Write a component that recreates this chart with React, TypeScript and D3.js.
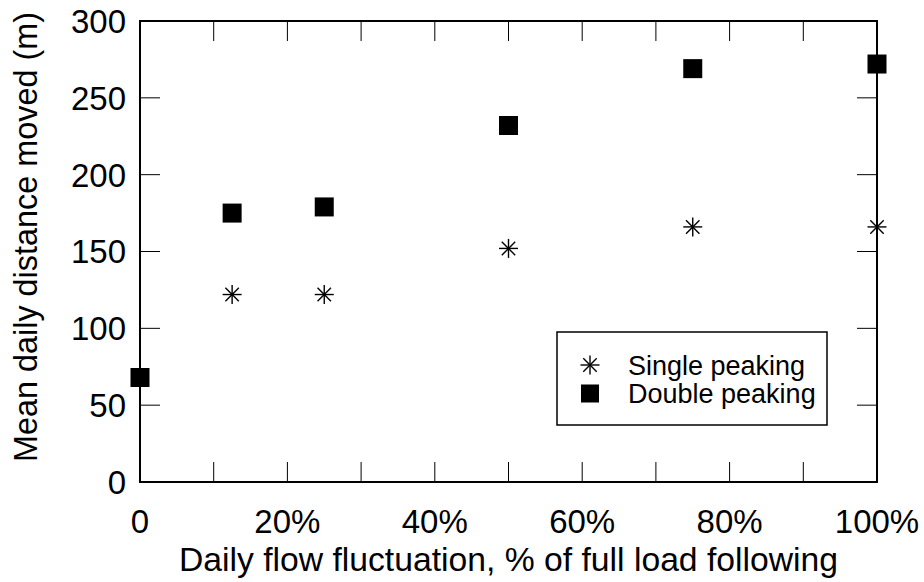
import React from "react";
import * as d3 from "d3";

const singleX = [12.5, 25, 50, 75, 100];
const singleY = [122, 122, 152, 166, 166];
const doubleX = [0, 12.5, 25, 50, 75, 100];
const doubleY = [68, 175, 179, 232, 269, 272];
const xTickLabels = ["0", "20%", "40%", "60%", "80%", "100%"];
const xLabelValues = [0, 20, 40, 60, 80, 100];
const xMinorTicks = [10, 20, 30, 40, 50, 60, 70, 80, 90];
const yTicks = [0, 50, 100, 150, 200, 250, 300];
const legendLabels = ["Single peaking", "Double peaking"];

const W = 924;
const H = 582;
const L = 140, R = 877, T = 21, B = 482;
const FONT = "Arial, 'Liberation Sans', Helvetica, sans-serif";

export default function App() {
  const x = d3.scaleLinear().domain([0, 100]).range([L, R]);
  const y = d3.scaleLinear().domain([0, 300]).range([B, T]);
  const tickLen = 20;
  const sq = 19;
  const st = 9.5;

  const star = (cx: number, cy: number, key: string) => {
    const d = st * Math.SQRT1_2;
    return (
      <g key={key} stroke="#000" strokeWidth={1.4}>
        <line x1={cx - st} y1={cy} x2={cx + st} y2={cy} />
        <line x1={cx} y1={cy - st} x2={cx} y2={cy + st} />
        <line x1={cx - d} y1={cy - d} x2={cx + d} y2={cy + d} />
        <line x1={cx - d} y1={cy + d} x2={cx + d} y2={cy - d} />
      </g>
    );
  };

  return (
    <svg width={W} height={H} style={{ position: "absolute", left: 0, top: 0, background: "#fff" }} fontFamily={FONT}>
      {/* ticks */}
      <g stroke="#000" strokeWidth={1}>
        {xMinorTicks.map((v) => (
          <g key={"xt" + v}>
            <line x1={x(v)} x2={x(v)} y1={B} y2={B - tickLen} />
            <line x1={x(v)} x2={x(v)} y1={T} y2={T + tickLen} />
          </g>
        ))}
        {yTicks.slice(1, -1).map((v) => (
          <g key={"yt" + v}>
            <line x1={L} x2={L + tickLen} y1={y(v)} y2={y(v)} />
            <line x1={R} x2={R - tickLen} y1={y(v)} y2={y(v)} />
          </g>
        ))}
      </g>
      <rect x={L} y={T} width={R - L} height={B - T} fill="none" stroke="#000" strokeWidth={2} />
      {/* tick labels */}
      <g fontSize={33} fill="#000">
        {yTicks.map((v) => (
          <text key={"yl" + v} x={L - 14} y={y(v)} dy="0.36em" textAnchor="end">{v}</text>
        ))}
        {xLabelValues.map((v, i) => (
          <text key={"xl" + v} x={x(v)} y={533} textAnchor="middle">{xTickLabels[i]}</text>
        ))}
      </g>
      <text x={(L + R) / 2} y={571} fontSize={33.7} textAnchor="middle" fill="#000">
        Daily flow fluctuation, % of full load following
      </text>
      <text transform={`translate(37,237) rotate(-90)`} fontSize={32.4} textAnchor="middle" fill="#000">
        Mean daily distance moved (m)
      </text>
      {/* data */}
      {singleX.map((v, i) => star(x(v), y(singleY[i]), "s" + i))}
      {doubleX.map((v, i) => (
        <rect key={"d" + i} x={x(v) - sq / 2} y={y(doubleY[i]) - sq / 2} width={sq} height={sq} fill="#000" />
      ))}
      {/* legend */}
      <rect x={557} y={332} width={270} height={93} fill="#fff" stroke="#000" strokeWidth={1.5} />
      {star(590, 365, "ls")}
      <rect x={590 - 9} y={393.5 - 9} width={18} height={18} fill="#000" />
      <g fontSize={27} fill="#000">
        <text x={628} y={375}>{legendLabels[0]}</text>
        <text x={628} y={403}>{legendLabels[1]}</text>
      </g>
    </svg>
  );
}
